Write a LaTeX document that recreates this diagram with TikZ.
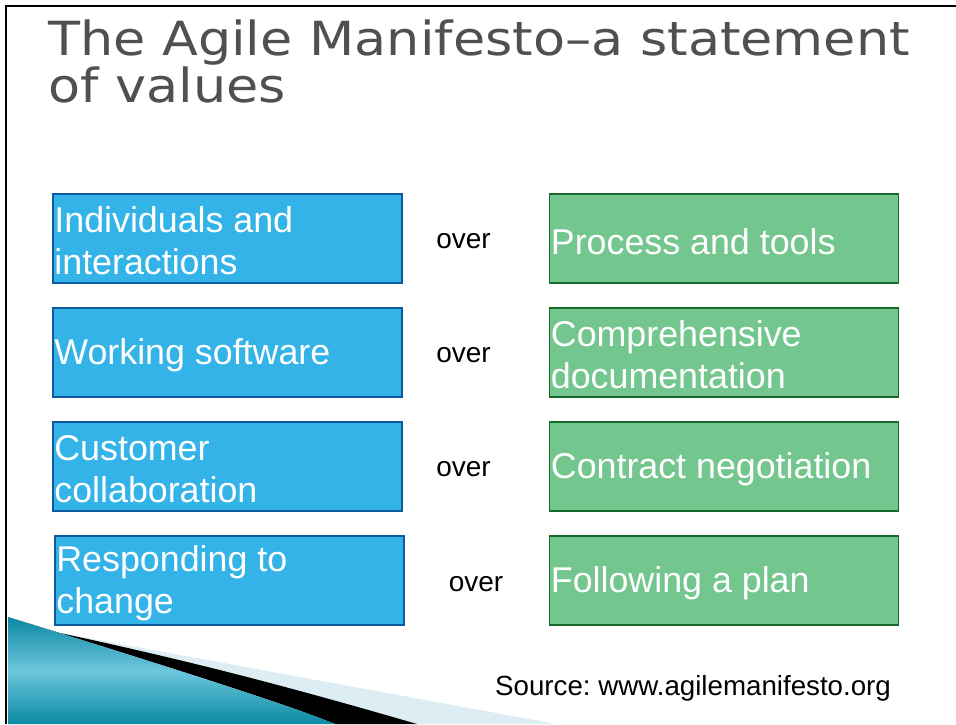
\documentclass[tikz,border=0pt]{standalone}
\usepackage{fontspec}
\setmainfont{Liberation Sans}
\newfontfamily\titlefont{DejaVu Sans}
\usetikzlibrary{shadings}
\definecolor{bluefill}{HTML}{33B3E8}
\definecolor{blueline}{HTML}{0D5A9E}
\definecolor{greenfill}{HTML}{74C68F}
\definecolor{greenline}{HTML}{17692C}
\definecolor{titlegray}{HTML}{505050}
\definecolor{tealdark}{HTML}{0B8AA2}
\definecolor{teallight}{HTML}{6CC6DD}
\definecolor{paleblue}{HTML}{DCEDF4}
\tikzset{
  valbox/.style={minimum width=349pt, minimum height=89pt, inner sep=0pt, line width=1.6pt},
  bluebox/.style={valbox, draw=blueline, fill=bluefill},
  greenbox/.style={valbox, draw=greenline, fill=greenfill},
  boxtext/.style={anchor=west, inner sep=0pt, align=left, text=white,
    font=\fontsize{35.8}{42}\selectfont},
  overtxt/.style={font=\fontsize{28}{32}\selectfont, inner sep=0pt, anchor=base},
  titletxt/.style={anchor=base west, inner sep=0pt, align=left, font=\titlefont\fontsize{47}{47}\selectfont},
}
\begin{document}
\frenchspacing
\begin{tikzpicture}[x=1pt,y=-1pt]
\useasboundingbox (0,0) rectangle (956,724);
\fill[white] (0,0) rectangle (956,724);
% bottom-left decoration
\fill[paleblue] (60,633) -- (556,724) -- (417,724) -- cycle;
\fill[black] (60,633) .. controls (200,663) and (300,690) .. (417,724) -- (335,724) .. controls (300,710) and (250,692) .. (8,617) -- cycle;
\shade[left color=tealdark, right color=tealdark, middle color=teallight, shading angle=0]
  (8,617) .. controls (250,692) and (300,710) .. (335,724) -- (8,724) -- cycle;
% slide border
\draw[line width=2.5pt] (6,724) -- (6,6) -- (956,6);
% title
\node[titletxt, text=titlegray] (title) at (48,102) {\scalebox{1.115}[1]{The Agile Manifesto–a statement}\\\scalebox{1.115}[1]{of values}};
% boxes
\node[bluebox] (l1) at (227.5,238.5) {};
\node[bluebox] (l2) at (227.5,352.5) {};
\node[bluebox] (l3) at (227.5,466.5) {};
\node[bluebox] (l4) at (229.5,580.5) {};
\node[greenbox] (r1) at (724,238.5) {};
\node[greenbox] (r2) at (724,352.5) {};
\node[greenbox] (r3) at (724,466.5) {};
\node[greenbox] (r4) at (724,580.5) {};
\node[boxtext] (l1t) at ([xshift=2pt,yshift=-2.5pt]l1.west) {Individuals and\\interactions};
\node[boxtext] (l2t) at ([xshift=2pt,yshift=-3pt]l2.west) {Working software};
\node[boxtext] (l3t) at ([xshift=2pt,yshift=-2.5pt]l3.west) {Customer\\collaboration};
\node[boxtext] (l4t) at ([xshift=2pt,yshift=-2.5pt]l4.west) {Responding to\\change};
\node[boxtext] (r1t) at ([xshift=2pt,yshift=-3pt]r1.west) {Process and tools};
\node[boxtext] (r2t) at ([xshift=2pt,yshift=-2.5pt]r2.west) {Comprehensive\\documentation};
\node[boxtext] (r3t) at ([xshift=2pt,yshift=-3pt]r3.west) {Contract negotiation};
\node[boxtext] (r4t) at ([xshift=2pt,yshift=-3pt]r4.west) {Following a plan};
\node[overtxt] (o1) at (463.5,248) {over};
\node[overtxt] (o2) at (463.5,362) {over};
\node[overtxt] (o3) at (463.5,476) {over};
\node[overtxt] (o4) at (476,591) {over};
\node[font=\fontsize{27.7}{32}\selectfont, inner sep=0pt, anchor=base west] (src) at (495,695) {Source: www.agilemanifesto.org};
\end{tikzpicture}
\end{document}
